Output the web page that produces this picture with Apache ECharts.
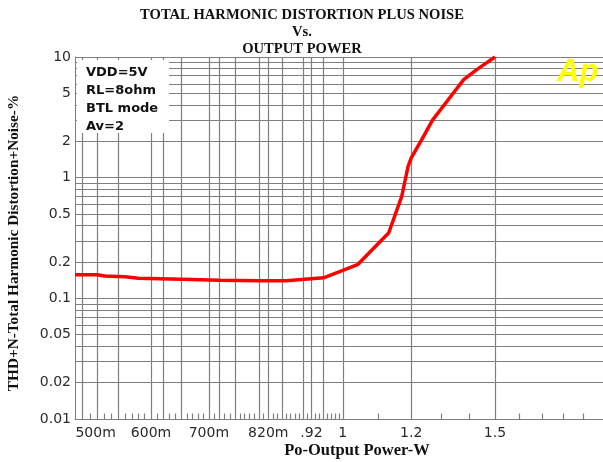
<!DOCTYPE html>
<html><head><meta charset="utf-8">
<script src="https://cdn.jsdelivr.net/npm/echarts@6/dist/echarts.min.js"></script>
<style>html,body{margin:0;padding:0;background:#fff}#c{width:603px;height:462px}</style>
</head><body><div id="c"></div>
<script>
// ---- data ----
const powerW = [0.49, 0.52, 0.53, 0.56, 0.58, 0.65, 0.72, 0.80, 0.86, 0.95, 1.04, 1.11, 1.13, 1.17, 1.19, 1.20, 1.24, 1.27, 1.32, 1.38, 1.43, 1.50];
const thdPct = [0.157, 0.157, 0.153, 0.151, 0.147, 0.144, 0.141, 0.140, 0.140, 0.148, 0.19, 0.306, 0.348, 0.70, 1.24, 1.46, 2.2, 3.0, 4.3, 6.5, 7.9, 10];

const xGridVals = [0.5, 0.52, 0.55, 0.6, 0.62, 0.65, 0.7, 0.72, 0.75, 0.8, 0.82, 0.85, 0.9, 0.92, 0.95, 1, 1.2, 1.5];
const xLabelVals = [0.5, 0.6, 0.7, 0.82, 0.92, 1, 1.2, 1.5];
const xLabelText = ['500m', '600m', '700m', '820m', '.92', '1', '1.2', '1.5'];
const xMinorTicks = [0.51, 0.53, 0.54, 0.56, 0.57, 0.58, 0.59, 0.61, 0.63, 0.64, 0.66, 0.67, 0.68, 0.69,
  0.71, 0.73, 0.74, 0.76, 0.77, 0.78, 0.79, 0.81, 0.83, 0.84, 0.86, 0.87, 0.88, 0.89, 0.91, 0.93, 0.94,
  0.96, 0.97, 0.98, 0.99, 1.1, 1.3, 1.4, 1.6, 1.7, 1.8, 1.9];

const yGridVals = [0.01, 0.02, 0.03, 0.04, 0.05, 0.06, 0.07, 0.08, 0.09,
  0.1, 0.2, 0.3, 0.4, 0.5, 0.6, 0.7, 0.8, 0.9,
  1, 2, 3, 4, 5, 6, 7, 8, 9, 10];
const yLabelVals = [10, 5, 2, 1, 0.5, 0.2, 0.1, 0.05, 0.02, 0.01];
const yLabelText = ['10', '5', '2', '1', '0.5', '0.2', '0.1', '0.05', '0.02', '0.01'];

const titleLines = ['TOTAL HARMONIC DISTORTION PLUS NOISE', 'Vs.', 'OUTPUT POWER'];
const noteLines = ['VDD=5V', 'RL=8ohm', 'BTL mode', 'Av=2'];
const xTitle = 'Po-Output Power-W';
const yTitle = 'THD+N-Total Harmonic Distortion+Noise-%';

// ---- chart ----
const GRID = '#7f7f7f';
const LBL = {fontFamily: 'DejaVu Sans', fontSize: 14, color: '#2a2a2a'};
const chart = echarts.init(document.getElementById('c'), null, {renderer: 'canvas'});

const lines = [];
xGridVals.forEach(v => {
  const i = xLabelVals.indexOf(v);
  const item = {xAxis: v};
  if (i >= 0) {
    item.label = Object.assign({show: true, position: 'start', distance: 7,
      formatter: xLabelText[i]}, LBL);
    if (i === 0) item.label.padding = [0, 0, 0, 26];
  }
  lines.push(item);
});
yGridVals.forEach(v => {
  const i = yLabelVals.indexOf(v);
  const item = {yAxis: v};
  if (i >= 0) {
    item.label = Object.assign({show: true, position: 'start', distance: 4,
      formatter: yLabelText[i]}, LBL);
  }
  lines.push(item);
});
xMinorTicks.forEach(v => {
  lines.push([{coord: [v, 0.01]}, {coord: [v, 0.0111]}]);
});

chart.setOption({
  animation: false,
  backgroundColor: '#fff',
  grid: {left: 75, top: 57, right: 0, bottom: 43, containLabel: false},
  xAxis: {type: 'log', min: 0.49, max: 2,
    axisLine: {show: true, lineStyle: {color: GRID, width: 1}},
    axisTick: {show: false}, axisLabel: {show: false}, splitLine: {show: false}},
  yAxis: {type: 'log', min: 0.01, max: 10,
    axisLine: {show: true, lineStyle: {color: GRID, width: 1}},
    axisTick: {show: false}, axisLabel: {show: false}, splitLine: {show: false}},
  series: [
    {type: 'line', data: [], silent: true, z: 1,
      markLine: {silent: true, symbol: 'none', z: 1, animation: false,
        lineStyle: {color: GRID, width: 1.2, type: 'solid'},
        label: {show: false},
        emphasis: {disabled: true},
        data: lines}},
    {type: 'line', z: 10, showSymbol: false, silent: true,
      data: powerW.map((x, i) => [x, thdPct[i]]),
      lineStyle: {color: '#ff0000', width: 3.5}}
  ],
  graphic: [
    {type: 'rect', shape: {x: 77, y: 60, width: 92, height: 73}, style: {fill: '#fff'}, z: 50},
    {type: 'text', left: 86, top: 64, z: 51,
      style: {text: noteLines.join('\n'), font: 'bold 13px "DejaVu Sans"', lineHeight: 17.8, fill: '#111'}},
    {type: 'text', x: 557, y: 72, z: 51,
      style: {text: 'Ap', font: 'italic bold 31px "Liberation Sans"', fill: '#ffff00', verticalAlign: 'middle'}},
    ...titleLines.map((t, i) => ({type: 'text', x: 302, y: 15.5 + i * 17, z: 51,
      style: {text: t, font: 'bold 14.6px "Liberation Serif"', fill: '#111', align: 'center', verticalAlign: 'middle'}})),
    {type: 'text', x: 357, y: 451, z: 51,
      style: {text: xTitle, font: 'bold 16.5px "Liberation Serif"', fill: '#111', align: 'center', verticalAlign: 'middle'}},
    {type: 'text', x: 14, y: 243, rotation: Math.PI / 2, z: 51,
      style: {text: yTitle, font: 'bold 15.3px "Liberation Serif"', fill: '#111', align: 'center', verticalAlign: 'middle'}}
  ]
});
</script></body></html>
